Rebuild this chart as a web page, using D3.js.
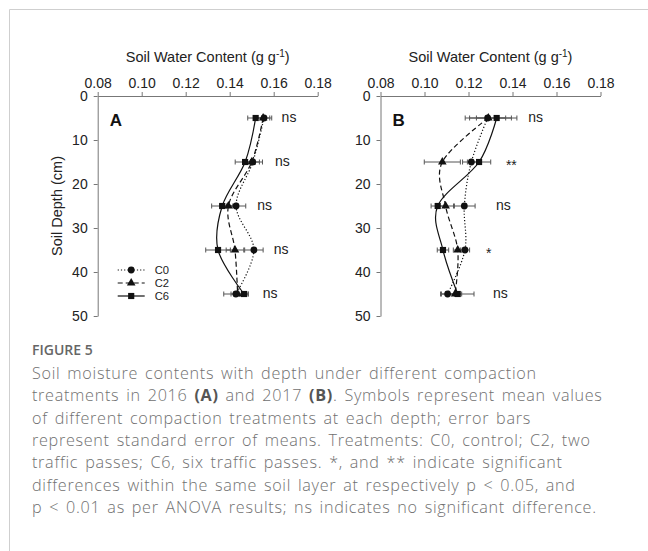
<!DOCTYPE html>
<html>
<head>
<meta charset="utf-8">
<script src="https://cdn.jsdelivr.net/npm/d3@7"></script>
<style>
body { margin: 0; background: #fff; }
svg { display: block; }
.tick text { font-family: "Liberation Sans", Arial, sans-serif; font-size: 14px; fill: #222; }
.tick line, .domain { stroke: #777; }
</style>
</head>
<body>
<div id="fig"></div>
<script>
var width = 648,
    height = 551;

// depths (cm) and treatments
var depths = [5, 15, 25, 35, 45];
var treatments = ["C0", "C2", "C6"];
var xTicks = [0.08, 0.10, 0.12, 0.14, 0.16, 0.18];
var yTicks = [0, 10, 20, 30, 40, 50];

// 2016 (A)
var a_C0 = [0.1556, 0.1505, 0.1429, 0.1510, 0.1428];
var a_C2 = [0.1552, 0.1500, 0.1394, 0.1424, 0.1436];
var a_C6 = [0.1518, 0.1470, 0.1366, 0.1347, 0.1465];
var a_C0_se = [0.0035, 0.0044, 0.0044, 0.0042, 0.0055];
var a_C2_se = [0.0030, 0.0035, 0.0040, 0.0040, 0.0030];
var a_C6_se = [0.0036, 0.0045, 0.0048, 0.0056, 0.0020];
var a_sig = ["ns", "ns", "ns", "ns", "ns"];
var a_sigX = [0.1636, 0.1606, 0.1525, 0.1600, 0.1550];

// 2017 (B)
var b_C0 = [0.1287, 0.1213, 0.1181, 0.1184, 0.1105];
var b_C2 = [0.1290, 0.1081, 0.1096, 0.1151, 0.1139];
var b_C6 = [0.1328, 0.1248, 0.1060, 0.1084, 0.1151];
var b_C0_se = [0.0082, 0.0040, 0.0049, 0.0021, 0.0032];
var b_C2_se = [0.0105, 0.0082, 0.0040, 0.0020, 0.0030];
var b_C6_se = [0.0092, 0.0053, 0.0030, 0.0026, 0.0074];
var b_sig = ["ns", "**", "ns", "*", "ns"];
var b_sigX = [0.1472, 0.1370, 0.1325, 0.1280, 0.1311];

var caption = [
    "Soil moisture contents with depth under different compaction",
    ["treatments in 2016 ", "(A)", " and 2017 ", "(B)", ". Symbols represent mean values"],
    "of different compaction treatments at each depth; error bars",
    "represent standard error of means. Treatments: C0, control; C2, two",
    "traffic passes; C6, six traffic passes. *, and ** indicate significant",
    "differences within the same soil layer at respectively p < 0.05, and",
    "p < 0.01 as per ANOVA results; ns indicates no significant difference."
];

var dash = { C0: "1.2,2", C2: "5,3", C6: null };
var shape = { C0: d3.symbolCircle, C2: d3.symbolTriangle, C6: d3.symbolSquare };
var shapeSize = { C0: 36, C2: 32, C6: 38 };
var font = "Liberation Sans, Arial, sans-serif";

var svg = d3.select("#fig").append("svg")
    .attr("width", width)
    .attr("height", height);

// frame
svg.append("path")
    .attr("d", "M9.5," + height + "V9.5H" + width)
    .attr("fill", "none")
    .attr("stroke", "#cfcfcf");

var yScale = d3.scaleLinear().domain([0, 50]).range([96, 316]);

function drawPanel(x0, means, ses, sig, sigX, letter, isFirst) {
    var x = d3.scaleLinear().domain([0.08, 0.18]).range([x0, x0 + 220]);
    var g = svg.append("g");

    g.append("g")
        .attr("transform", "translate(0,96)")
        .call(d3.axisTop(x).tickValues(xTicks).tickFormat(d3.format(".2f"))
            .tickSize(4).tickSizeOuter(0).tickPadding(4));
    g.append("g")
        .attr("transform", "translate(" + x0 + ",0)")
        .call(d3.axisLeft(yScale).tickValues(yTicks)
            .tickSize(4).tickSizeOuter(0).tickPadding(6));

    // axis title
    var t = g.append("text")
        .attr("x", x0 + 110)
        .attr("y", 62)
        .attr("text-anchor", "middle")
        .attr("font-family", font)
        .attr("font-size", 14.5)
        .attr("fill", "#222");
    t.append("tspan").text("Soil Water Content (g g");
    t.append("tspan").attr("dy", -5).attr("font-size", 10).text("-1");
    t.append("tspan").attr("dy", 5).text(")");

    if (isFirst) {
        g.append("text")
            .attr("transform", "translate(57,206) rotate(-90)")
            .attr("text-anchor", "middle")
            .attr("dy", "0.35em")
            .attr("font-family", font)
            .attr("font-size", 14.5)
            .attr("fill", "#222")
            .text("Soil Depth (cm)");
    }

    g.append("text")
        .attr("x", x0 + 12)
        .attr("y", 126)
        .attr("font-family", font)
        .attr("font-weight", "bold")
        .attr("font-size", 17)
        .attr("fill", "#111")
        .text(letter);

    // error bars
    treatments.forEach(function (tr) {
        var eb = g.selectAll(".eb" + tr)
            .data(depths)
            .enter().append("g")
            .attr("stroke", "#555")
            .attr("stroke-width", 1);
        eb.append("line")
            .attr("x1", function (d, i) { return x(means[tr][i] - ses[tr][i]); })
            .attr("x2", function (d, i) { return x(means[tr][i] + ses[tr][i]); })
            .attr("y1", function (d) { return yScale(d); })
            .attr("y2", function (d) { return yScale(d); });
        [-1, 1].forEach(function (s) {
            eb.append("line")
                .attr("x1", function (d, i) { return x(means[tr][i] + s * ses[tr][i]); })
                .attr("x2", function (d, i) { return x(means[tr][i] + s * ses[tr][i]); })
                .attr("y1", function (d) { return yScale(d) - 2.5; })
                .attr("y2", function (d) { return yScale(d) + 2.5; });
        });
    });

    // smoothed lines
    var line = d3.line()
        .x(function (d) { return x(d[0]); })
        .y(function (d) { return yScale(d[1]); })
        .curve(d3.curveCardinal.tension(0));
    treatments.forEach(function (tr) {
        g.append("path")
            .datum(depths.map(function (d, i) { return [means[tr][i], d]; }))
            .attr("d", line)
            .attr("fill", "none")
            .attr("stroke", "#111")
            .attr("stroke-width", 1.2)
            .attr("stroke-dasharray", dash[tr]);
    });

    // markers
    treatments.forEach(function (tr) {
        g.selectAll(".m" + tr)
            .data(depths)
            .enter().append("path")
            .attr("d", d3.symbol().type(shape[tr]).size(shapeSize[tr]))
            .attr("transform", function (d, i) {
                return "translate(" + x(means[tr][i]) + "," + yScale(d) + ")";
            })
            .attr("fill", "#111");
    });

    // significance
    g.selectAll(".sig")
        .data(depths)
        .enter().append("text")
        .attr("x", function (d, i) { return x(sigX[i]); })
        .attr("y", function (d, i) { return yScale(d) + (sig[i] == "ns" ? 4 : 8); })
        .attr("font-family", font)
        .attr("font-size", 14)
        .attr("fill", "#222")
        .text(function (d, i) { return sig[i]; });

    // legend
    if (isFirst) {
        treatments.forEach(function (tr, k) {
            var ly = 270 + k * 13;
            g.append("line")
                .attr("x1", x0 + 20).attr("x2", x0 + 47)
                .attr("y1", ly).attr("y2", ly)
                .attr("stroke", "#111")
                .attr("stroke-width", 1.2)
                .attr("stroke-dasharray", dash[tr]);
            g.append("path")
                .attr("d", d3.symbol().type(shape[tr]).size(shapeSize[tr]))
                .attr("transform", "translate(" + (x0 + 33.5) + "," + ly + ")")
                .attr("fill", "#111");
            g.append("text")
                .attr("x", x0 + 57)
                .attr("y", ly + 4)
                .attr("font-family", font)
                .attr("font-size", 11.2)
                .attr("fill", "#222")
                .text(tr);
        });
    }
}

drawPanel(97.7, { C0: a_C0, C2: a_C2, C6: a_C6 }, { C0: a_C0_se, C2: a_C2_se, C6: a_C6_se },
    a_sig, a_sigX, "A", true);
drawPanel(380.5, { C0: b_C0, C2: b_C2, C6: b_C6 }, { C0: b_C0_se, C2: b_C2_se, C6: b_C6_se },
    b_sig, b_sigX, "B", false);

//////////////////// caption
svg.append("text")
    .attr("x", 32)
    .attr("y", 355)
    .attr("font-family", "Open Sans, sans-serif")
    .attr("font-weight", 600)
    .attr("font-size", 14)
    .attr("fill", "#666")
    .text("FIGURE 5");

caption.forEach(function (ln, i) {
    var t = svg.append("text")
        .attr("x", 32)
        .attr("y", 379 + i * 22.3)
        .attr("font-family", "Open Sans, sans-serif")
        .attr("font-weight", 300)
        .attr("font-size", 16.2)
        .attr("letter-spacing", 0.7)
        .attr("word-spacing", 2)
        .attr("fill", "#707070");
    if (typeof ln == "string") {
        t.text(ln);
    } else {
        ln.forEach(function (part) {
            t.append("tspan")
                .attr("font-weight", part.charAt(0) == "(" ? 700 : 300)
                .attr("fill", part.charAt(0) == "(" ? "#555" : "#707070")
                .text(part);
        });
    }
});
</script>
</body>
</html>
